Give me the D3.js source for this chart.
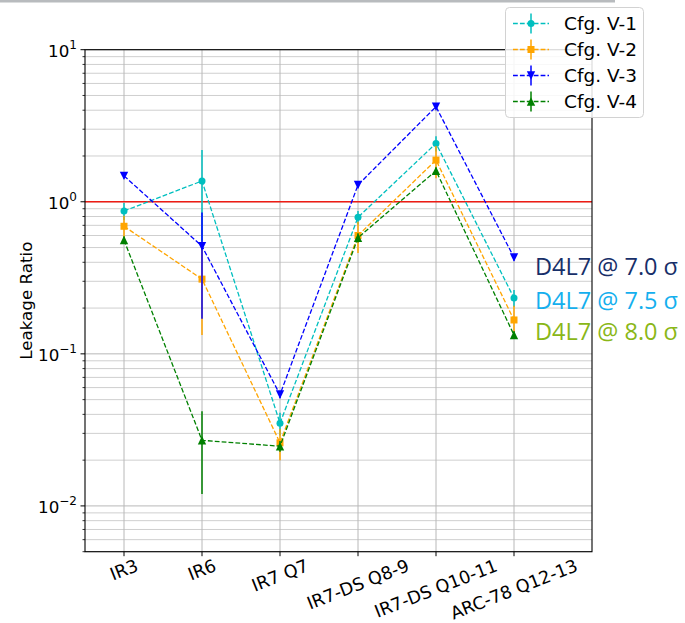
<!DOCTYPE html>
<html>
<head>
<meta charset="utf-8">
<script src="https://cdn.jsdelivr.net/npm/d3@7"></script>
<style>
  html, body { margin: 0; padding: 0; background: #fff; }
  svg { display: block; font-family: "DejaVu Sans", sans-serif; }
</style>
</head>
<body>
<svg id="chart" width="685" height="623"></svg>
<script>
// Locations along the collimation region
const categories = ["IR3", "IR6", "IR7 Q7", "IR7-DS Q8-9", "IR7-DS Q10-11", "ARC-78 Q12-13"];

// Leakage ratio per configuration, with its uncertainty
const cfgV1 = [0.87, 1.37, 0.035, 0.79, 2.42, 0.233];
const errV1 = [0.11, 0.82, 0.006, 0.08, 0.28, 0.03];
const cfgV2 = [0.69, 0.31, 0.026, 0.60, 1.88, 0.167];
const errV2 = [0.12, 0.177, 0.006, 0.14, 0.45, 0.04];
const cfgV3 = [1.48, 0.51, 0.054, 1.29, 4.22, 0.43];
const errV3 = [0.06, 0.34, 0.003, 0.05, 0.15, 0.02];
const cfgV4 = [0.56, 0.027, 0.0247, 0.58, 1.60, 0.133];
const errV4 = [0.03, 0.015, 0.002, 0.04, 0.08, 0.008];

const seriesNames = ["Cfg. V-1", "Cfg. V-2", "Cfg. V-3", "Cfg. V-4"];
const yMajorTicks = [0.01, 0.1, 1, 10];
const yTickExponents = ["-2", "-1", "0", "1"];
const annotations = ["D4L7 @ 7.0 σ", "D4L7 @ 7.5 σ", "D4L7 @ 8.0 σ"];

const series = [
  { name: seriesNames[0], values: cfgV1, errors: errV1, color: "#00bfbf", marker: "circle" },
  { name: seriesNames[1], values: cfgV2, errors: errV2, color: "#ffa500", marker: "square" },
  { name: seriesNames[2], values: cfgV3, errors: errV3, color: "#0000ff", marker: "triDown" },
  { name: seriesNames[3], values: cfgV4, errors: errV4, color: "#008000", marker: "triUp" }
];
const annotationColors = ["#172f69", "#14afee", "#8ab718"];

const svg = d3.select("#chart");
const plot = { left: 85, right: 592, top: 49.7, bottom: 551.7 };
const fsY = 16.7;     // y tick labels and axis title
const fsX = 17.6;     // category labels
const fsLegend = 18.5;

// faint strip along the top edge
svg.append("rect").attr("x", 0).attr("y", 0).attr("width", 615).attr("height", 2.5)
  .attr("fill", "#7d8489").attr("opacity", 0.55);

const x = d3.scaleLinear().domain([-0.5, 6]).range([plot.left, plot.right]);
const y = d3.scaleLog().domain([0.005, 10]).range([plot.bottom, plot.top]);

const g = svg.append("g");

// minor + major horizontal grid
const minorVals = [];
for (let e = -3; e <= 0; e++) {
  for (let m = 2; m <= 9; m++) {
    const v = m * Math.pow(10, e);
    if (v >= 0.005 && v <= 10) minorVals.push(v);
  }
}
g.selectAll("line.minor").data(minorVals).join("line")
  .attr("x1", plot.left).attr("x2", plot.right)
  .attr("y1", d => y(d)).attr("y2", d => y(d))
  .attr("stroke", "#cfcfcf").attr("stroke-width", 1);
g.selectAll("line.major").data(yMajorTicks).join("line")
  .attr("x1", plot.left).attr("x2", plot.right)
  .attr("y1", d => y(d)).attr("y2", d => y(d))
  .attr("stroke", "#b8b8b8").attr("stroke-width", 1);

// vertical grid at each category
g.selectAll("line.vgrid").data(categories).join("line")
  .attr("x1", (d, i) => x(i)).attr("x2", (d, i) => x(i))
  .attr("y1", plot.top).attr("y2", plot.bottom)
  .attr("stroke", "#b8b8b8").attr("stroke-width", 1);

// reference line at ratio 1
g.append("line")
  .attr("x1", plot.left).attr("x2", plot.right)
  .attr("y1", y(1)).attr("y2", y(1))
  .attr("stroke", "#ee1c14").attr("stroke-width", 1.3);

// markers
function drawMarker(sel, type, color, size) {
  const s = size;
  if (type === "circle") {
    return sel.append("circle").attr("r", s / 2).attr("fill", color);
  } else if (type === "square") {
    return sel.append("rect").attr("x", -s / 2).attr("y", -s / 2)
      .attr("width", s).attr("height", s).attr("fill", color);
  } else if (type === "triDown") {
    const h = s * 0.6;
    return sel.append("path").attr("d", `M${-h},${-h}L${h},${-h}L0,${h}Z`).attr("fill", color);
  } else {
    const h = s * 0.6;
    return sel.append("path").attr("d", `M${-h},${h}L${h},${h}L0,${-h}Z`).attr("fill", color);
  }
}

const lineGen = d3.line().x((d, i) => x(i)).y(d => y(d));

series.forEach(s => {
  const sg = g.append("g");
  // error bars
  sg.selectAll("line.err").data(s.values).join("line")
    .attr("x1", (d, i) => x(i)).attr("x2", (d, i) => x(i))
    .attr("y1", (d, i) => y(Math.max(d - s.errors[i], 0.0051)))
    .attr("y2", (d, i) => y(d + s.errors[i]))
    .attr("stroke", s.color).attr("stroke-width", 1.5);
  // dashed connecting line
  sg.append("path").datum(s.values).attr("d", lineGen)
    .attr("fill", "none").attr("stroke", s.color)
    .attr("stroke-width", 1.3).attr("stroke-dasharray", "4.8,2.1");
  s.values.forEach((d, i) => {
    const mg = sg.append("g").attr("transform", `translate(${x(i)},${y(d)})`);
    drawMarker(mg, s.marker, s.color, 7);
  });
});

// frame
g.append("rect").attr("x", plot.left).attr("y", plot.top)
  .attr("width", plot.right - plot.left).attr("height", plot.bottom - plot.top)
  .attr("fill", "none").attr("stroke", "#000").attr("stroke-width", 1.1);

// y ticks
g.selectAll("line.ymaj").data(yMajorTicks).join("line")
  .attr("x1", plot.left - 4.5).attr("x2", plot.left)
  .attr("y1", d => y(d)).attr("y2", d => y(d))
  .attr("stroke", "#000").attr("stroke-width", 1);
g.selectAll("line.ymin").data(minorVals).join("line")
  .attr("x1", plot.left - 2.5).attr("x2", plot.left)
  .attr("y1", d => y(d)).attr("y2", d => y(d))
  .attr("stroke", "#000").attr("stroke-width", 0.8);

yMajorTicks.forEach((v, i) => {
  const t = g.append("text")
    .attr("x", plot.left - 8).attr("y", y(v) + 7)
    .attr("text-anchor", "end").attr("font-size", fsY).attr("fill", "#000");
  t.append("tspan").text("10");
  t.append("tspan").attr("dy", -7.5).attr("font-size", fsY * 0.72)
    .text(yTickExponents[i].replace("-", "\u2212"));
});

// y label
g.append("text")
  .attr("transform", `translate(32,${(plot.top + plot.bottom) / 2}) rotate(-90)`)
  .attr("text-anchor", "middle").attr("font-size", fsY).attr("fill", "#000")
  .text("Leakage Ratio");

// x ticks and rotated labels
categories.forEach((c, i) => {
  const xi = x(i);
  g.append("line").attr("x1", xi).attr("x2", xi)
    .attr("y1", plot.bottom).attr("y2", plot.bottom + 4.5)
    .attr("stroke", "#000").attr("stroke-width", 1);
  const t = g.append("text").attr("font-size", fsX).attr("fill", "#000")
    .attr("text-anchor", "middle").attr("dominant-baseline", "central").text(c);
  const w = t.node().getComputedTextLength();
  const h = fsX * 1.1;
  const a = 21.5 * Math.PI / 180;
  const bh = w * Math.sin(a) + h * Math.cos(a);
  const top = plot.bottom + 4;
  t.attr("transform", `translate(${xi},${top + bh / 2}) rotate(-21.5)`);
});

// legend
const lg = svg.append("g");
lg.append("rect").attr("x", 505.5).attr("y", 7.5).attr("width", 138).attr("height", 110)
  .attr("rx", 4).attr("fill", "#fff").attr("fill-opacity", 0.85)
  .attr("stroke", "#d2d2d2").attr("stroke-width", 1);
series.forEach((s, i) => {
  const cy = 23.5 + i * 26;
  const eg = lg.append("g");
  eg.append("line").attr("x1", 513).attr("x2", 549).attr("y1", cy).attr("y2", cy)
    .attr("stroke", s.color).attr("stroke-width", 1.3).attr("stroke-dasharray", "4.8,2.1");
  eg.append("line").attr("x1", 531).attr("x2", 531).attr("y1", cy - 10).attr("y2", cy + 10)
    .attr("stroke", s.color).attr("stroke-width", 1.5);
  drawMarker(eg.append("g").attr("transform", `translate(531,${cy})`), s.marker, s.color, 7);
  lg.append("text").attr("x", 564).attr("y", cy + 6.8).attr("font-size", fsLegend)
    .attr("fill", "#000").text(s.name);
});

// beam-condition annotations
annotations.forEach((txt, i) => {
  svg.append("text")
    .attr("x", 535).attr("y", [275, 309, 340][i])
    .attr("font-family", "'Open Sans', Lato, sans-serif")
    .attr("font-size", 23).attr("fill", annotationColors[i])
    .attr("textLength", 143).attr("lengthAdjust", "spacingAndGlyphs")
    .text(txt);
});
</script>
</body>
</html>
